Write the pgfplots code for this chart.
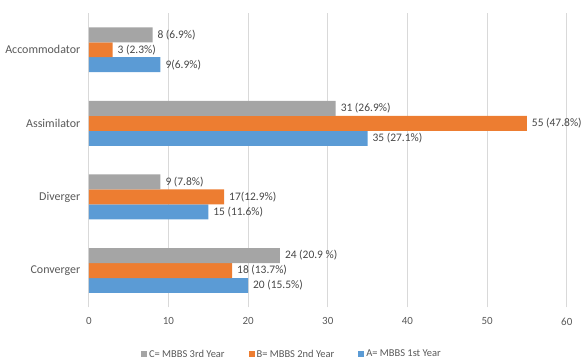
\documentclass[border=0pt]{standalone}
\usepackage{pgfplots}
\pgfplotsset{compat=1.18}
\usepackage{fontspec}
\setmainfont{Carlito}
\definecolor{cgray}{HTML}{A5A5A5}
\definecolor{corange}{HTML}{ED7D31}
\definecolor{cblue}{HTML}{5B9BD5}
\definecolor{gridc}{HTML}{D9D9D9}
\definecolor{txt}{HTML}{595959}
\begin{document}
\begin{tikzpicture}
\begin{axis}[
  scale only axis,
  width=479pt, height=295pt,
  xbar=0pt, bar width=15pt,
  xmin=0, xmax=60,
  ymin=-0.5, ymax=3.5,
  ytick={0,1,2,3},
  yticklabels={Converger,Diverger,Assimilator,Accommodator},
  xtick={0,10,...,60},
  xmajorgrids, major grid style={gridc, line width=0.8pt},
  axis line style={draw=none},
  major tick length=0pt,
  tick label style={text=txt},
  xticklabel style={font=\fontsize{11}{12}\selectfont, yshift=-7pt},
  yticklabel style={font=\fontsize{12}{13}\selectfont, xshift=-5pt},
  /pgf/number format/assume math mode=true,
  nodes near coords,
  point meta=explicit symbolic,
  every node near coord/.append style={font=\fontsize{11.5}{12}\selectfont, text=black!72, anchor=west, xshift=1.5pt},
  legend style={at={(0.425,-0.13)}, anchor=north, draw=none, legend columns=3,
    font=\fontsize{10.5}{11}\selectfont, text=txt,
    /tikz/every even column/.append style={column sep=22pt}},
  legend image code/.code={\fill[#1] (0pt,-3pt) rectangle (6pt,3pt);},
  reverse legend,
  clip=false,
  after end axis/.code={
    \path (rel axis cs:0,0) ++(-89pt,-55pt);
    \path (rel axis cs:1,1) ++(17pt,13pt);
  },
]
\addplot[fill=cblue, draw=none] table[meta=label] {
x y label
20 0 {20 (15.5\%)}
15 1 {15 (11.6\%)}
35 2 {35 (27.1\%)}
9 3 {9(6.9\%)}
};
\addplot[fill=corange, draw=none] table[meta=label] {
x y label
18 0 {18 (13.7\%)}
17 1 {17(12.9\%)}
55 2 {55 (47.8\%)}
3 3 {3 (2.3\%)}
};
\addplot[fill=cgray, draw=none] table[meta=label] {
x y label
24 0 {24 (20.9 \%)}
9 1 {9 (7.8\%)}
31 2 {31 (26.9\%)}
8 3 {8 (6.9\%)}
};
\legend{A= MBBS 1st Year, B= MBBS 2nd Year, C= MBBS 3rd Year}
\end{axis}
\end{tikzpicture}
\end{document}
